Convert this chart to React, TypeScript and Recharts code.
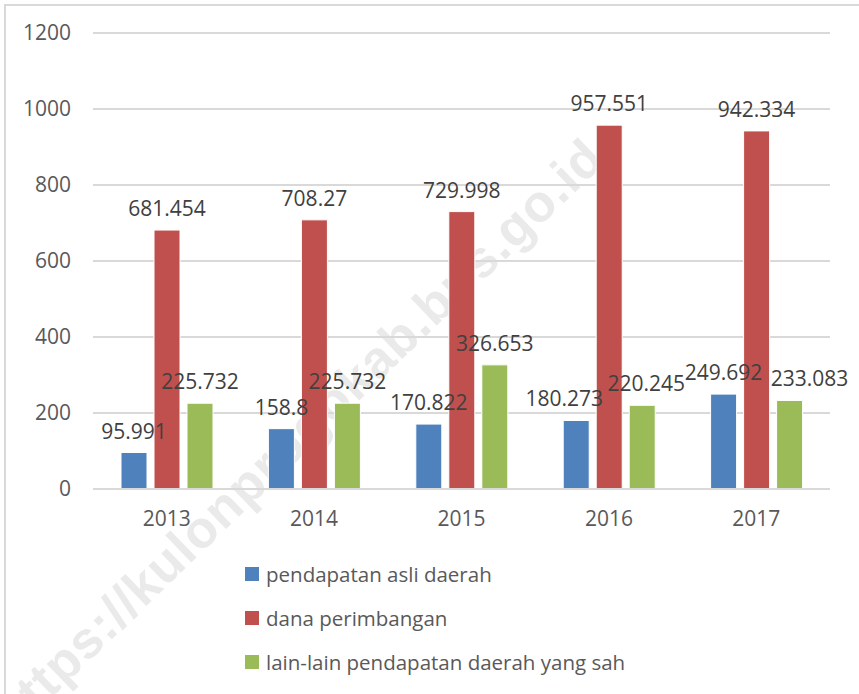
import React from 'react'
import { BarChart, Bar, XAxis, YAxis, CartesianGrid, Legend, LabelList } from 'recharts'

const YEARS = ['2013', '2014', '2015', '2016', '2017']
const PAD = [95.991, 158.8, 170.822, 180.273, 249.692]
const DANA = [681.454, 708.27, 729.998, 957.551, 942.334]
const LAIN = [225.732, 225.732, 326.653, 220.245, 233.083]
const Y_TICKS = [0, 200, 400, 600, 800, 1000, 1200]

const SERIES = [
  { key: 'pad', name: 'pendapatan asli daerah', color: '#4F81BD' },
  { key: 'dana', name: 'dana perimbangan', color: '#C0504D' },
  { key: 'lain', name: 'lain-lain pendapatan daerah yang sah', color: '#9BBB59' },
]

const data = YEARS.map((year, i) => ({ year, pad: PAD[i], dana: DANA[i], lain: LAIN[i] }))

const FONT = '"Open Sans", "Liberation Sans", sans-serif'
const TEXT = '#404040'

// blue and green labels sit at about the same height when the values are close,
// so push them apart a little the way Excel does
function nudge(key: string, i: number) {
  const close = Math.abs(PAD[i] - LAIN[i]) < 60
  if (!close) return 0
  if (key === 'pad') return PAD[i] < LAIN[i] ? -12 : 0
  if (key === 'lain') return PAD[i] < LAIN[i] ? 4 : 20
  return 0
}

function makeLabel(key: string) {
  return (props: any) => {
    const { x, y, width, value, index } = props
    return (
      <text x={x + width / 2 + nudge(key, index)} y={y - 14} textAnchor="middle"
        style={{ fontSize: 21, fill: TEXT, fontFamily: FONT }}>
        {value}
      </text>
    )
  }
}

function LegendBox() {
  return (
    <div style={{ paddingLeft: 245, fontFamily: FONT, fontSize: 20.5, color: '#595959', textAlign: 'left' }}>
      {SERIES.map((s) => (
        <div key={s.key} style={{ height: 44, display: 'flex', alignItems: 'center' }}>
          <span style={{ width: 14, height: 14, background: s.color, marginRight: 7, display: 'inline-block' }} />
          <span>{s.name}</span>
        </div>
      ))}
    </div>
  )
}

export default function App() {
  return (
    <div style={{ position: 'absolute', left: 0, top: 0, width: 859, height: 694, overflow: 'hidden', background: '#fff' }}>
      <div style={{ position: 'absolute', left: 4, top: 4, width: 900, height: 800, border: '2px solid #D9D9D9', boxSizing: 'border-box' }} />
      <div
        style={{
          position: 'absolute', left: -20, top: 700, transformOrigin: '0 0', transform: 'rotate(-44deg)',
          fontFamily: '"Liberation Sans", sans-serif', fontWeight: 'bold', fontSize: 52, color: '#EAEAEA',
          whiteSpace: 'nowrap', letterSpacing: 1,
        }}
      >
        https://kulonprogokab.bps.go.id
      </div>
      <div style={{ position: 'absolute', left: 0, top: 0 }}>
        <BarChart width={859} height={694} data={data} margin={{ top: 33, right: 29, left: 13, bottom: 10 }}
          barCategoryGap="19%" barGap={7}>
          <CartesianGrid vertical={false} stroke="#D9D9D9" strokeWidth={2} />
          <XAxis dataKey="year" height={63} tickLine={false} tickSize={0} tickMargin={22}
            axisLine={{ stroke: '#D9D9D9', strokeWidth: 2 }}
            tick={{ fontSize: 21, fill: '#595959', fontFamily: FONT }} />
          <YAxis width={80} domain={[0, 1200]} ticks={Y_TICKS} axisLine={false} tickLine={false}
            tickSize={0} tickMargin={22} tick={{ fontSize: 21, fill: '#595959', fontFamily: FONT }} />
          <Legend verticalAlign="bottom" align="left" layout="horizontal" wrapperStyle={{ left: 0, width: 859 }}
            content={() => <LegendBox />} />
          {SERIES.map((s) => (
            <Bar key={s.key} dataKey={s.key} name={s.name} fill={s.color} stroke="#fff" strokeWidth={1}
              isAnimationActive={false}>
              <LabelList dataKey={s.key} content={makeLabel(s.key)} />
            </Bar>
          ))}
        </BarChart>
      </div>
    </div>
  )
}
